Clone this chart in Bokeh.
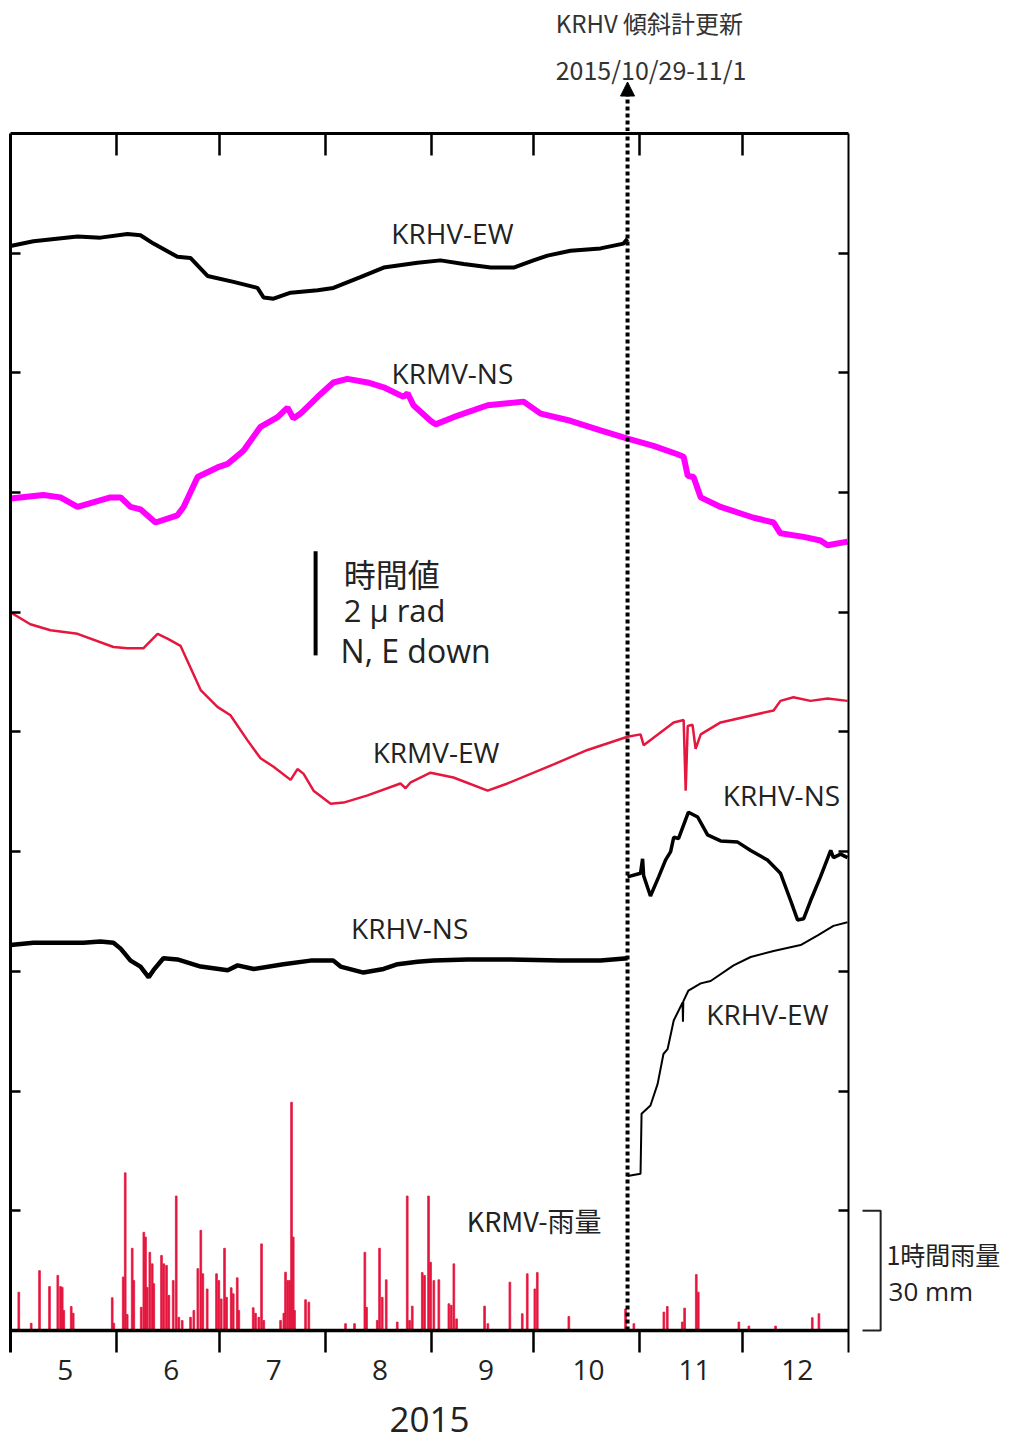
from bokeh.plotting import figure
from bokeh.models import Range1d, LinearAxis, FixedTicker, Arrow, NormalHead, Span
from bokeh.layouts import column, row
from bokeh.core.properties import value
from bokeh.embed import file_html
from bokeh.resources import INLINE

# x: days since 2015-05-01 ; y: offset in plot units (one tick interval = 1)
month_starts = [0, 31, 61, 92, 123, 153, 184, 214, 245]
month_labels = ["5", "6", "7", "8", "9", "10", "11", "12"]
update_day = 180.4   # KRHV tiltmeter replacement 2015/10/29-11/1

krhv_ew_a_day = [0, 6.7, 19.6, 26.3, 34.2, 38.0, 41.8, 48.8, 52.6, 57.6, 65.2, 72.2, 74.0, 76.9,
                 81.9, 89.8, 94.4, 102.3, 109.1, 119.0, 125.7, 132.5, 140.4, 147.1, 152.9, 157.0,
                 163.7, 172.5, 179.2, 180.4]
krhv_ew_a_val = [9.06, 9.10, 9.14, 9.13, 9.16, 9.15, 9.08, 8.97, 8.96, 8.81, 8.76, 8.71, 8.63, 8.62,
                 8.67, 8.69, 8.71, 8.80, 8.88, 8.92, 8.94, 8.91, 8.88, 8.88, 8.94, 8.98,
                 9.02, 9.04, 9.08, 9.12]

krmv_ns_day = [0, 9.6, 14.6, 19.6, 29.2, 32.2, 35.1, 38.0, 42.4, 48.8, 50.6, 54.7, 60.5, 63.5, 68.1,
               73.1, 78.1, 81.0, 82.7, 84.8, 89.8, 94.4, 98.5, 104.4, 109.1, 114.9, 116.1, 117.8,
               122.8, 124.3, 129.5, 139.5, 150.0, 155.0, 163.7, 172.5, 180.4, 188.0, 195.0, 196.8,
               198.0, 199.7, 201.8, 207.6, 217.3, 223.1, 225.1, 231.9, 236.8, 238.9, 244.7]
krmv_ns_val = [6.95, 6.98, 6.96, 6.88, 6.96, 6.96, 6.88, 6.86, 6.75, 6.81, 6.88, 7.13, 7.21, 7.24, 7.35,
               7.55, 7.63, 7.71, 7.62, 7.66, 7.80, 7.92, 7.95, 7.92, 7.88, 7.80, 7.83, 7.73,
               7.60, 7.57, 7.63, 7.73, 7.76, 7.66, 7.60, 7.52, 7.45, 7.39, 7.32, 7.30,
               7.14, 7.13, 6.96, 6.88, 6.79, 6.75, 6.66, 6.63, 6.60, 6.56, 6.59]

krmv_ew_day = [0, 5.8, 11.7, 19.6, 30.1, 34.2, 38.9, 43.0, 45.9, 49.7, 55.6, 60.5, 64.3, 69.3, 73.1,
               76.9, 81.9, 83.9, 85.7, 88.6, 93.6, 97.4, 104.4, 114.0, 115.5, 117.0, 122.8, 129.5,
               139.5, 145.3, 158.8, 168.7, 180.4, 184.2, 185.1, 193.9, 196.8, 197.4, 198.0, 199.4,
               200.3, 201.8, 207.6, 223.1, 225.1, 228.9, 233.9, 238.9, 244.7]
krmv_ew_val = [6.00, 5.90, 5.85, 5.82, 5.71, 5.70, 5.70, 5.82, 5.78, 5.72, 5.35, 5.21, 5.14, 4.93, 4.78,
               4.71, 4.60, 4.69, 4.65, 4.51, 4.40, 4.41, 4.47, 4.57, 4.53, 4.58, 4.66, 4.62,
               4.51, 4.57, 4.73, 4.85, 4.96, 4.98, 4.89, 5.08, 5.10, 4.51, 5.05, 5.06,
               4.86, 4.98, 5.08, 5.18, 5.26, 5.29, 5.26, 5.28, 5.26]

krhv_ns_a_day = [0, 6.7, 14.6, 21.3, 26.3, 30.1, 32.2, 35.1, 38.0, 40.4, 41.8, 44.7, 48.8, 55.6, 63.5,
                 66.4, 71.1, 79.8, 87.7, 94.4, 96.5, 103.2, 109.1, 113.2, 119.0, 123.7, 133.6, 141.2,
                 146.2, 160.8, 172.5, 180.4]
krhv_ns_a_val = [3.22, 3.24, 3.24, 3.24, 3.25, 3.24, 3.19, 3.09, 3.04, 2.95, 3.01, 3.11, 3.10, 3.04, 3.01,
                 3.05, 3.02, 3.06, 3.09, 3.09, 3.04, 2.99, 3.02, 3.06, 3.08, 3.09, 3.10, 3.10,
                 3.10, 3.09, 3.09, 3.11]

krhv_ns_b_day = [180.4, 184.2, 184.8, 185.1, 187.1, 189.5, 191.5, 193.0, 193.9, 195.3, 198.2, 200.9,
                 203.8, 207.6, 212.6, 216.4, 221.3, 225.1, 228.1, 230.1, 231.9, 233.9, 236.8, 239.8,
                 240.6, 242.7, 244.7]
krhv_ns_b_val = [3.79, 3.82, 3.94, 3.80, 3.63, 3.79, 3.93, 4.00, 4.12, 4.11, 4.33, 4.29,
                 4.14, 4.09, 4.08, 4.01, 3.93, 3.82, 3.59, 3.43, 3.44, 3.59, 3.79, 4.01,
                 3.95, 3.98, 3.95]

krhv_ew_b_day = [180.4, 184.2, 184.5, 187.1, 189.2, 190.9, 192.1, 193.9, 196.5, 196.6, 196.7, 198.2,
                 201.8, 204.7, 211.4, 216.4, 223.1, 231.0, 236.0, 240.6, 244.7]
krhv_ew_b_val = [1.29, 1.31, 1.81, 1.88, 2.06, 2.31, 2.35, 2.59, 2.74, 2.58, 2.75, 2.84,
                 2.90, 2.92, 3.05, 3.12, 3.17, 3.22, 3.30, 3.38, 3.41]

# KRMV hourly rainfall (mm)
rain_day = [2.43, 6.05, 8.48, 11.40, 13.83, 14.62, 15.12, 15.58, 17.75, 18.33, 29.74, 30.20, 32.95,
            33.54, 34.12, 35.58, 36.05, 38.22, 38.98, 39.47, 39.97, 40.73, 41.43, 41.90, 44.15, 44.82,
            45.61, 46.29, 47.57, 48.45, 49.21, 50.20, 52.63, 53.60, 54.77, 55.64, 56.23, 57.51, 60.23,
            60.91, 61.61, 62.57, 63.16, 64.53, 65.12, 66.29, 66.75, 70.96, 71.64, 72.60, 73.39, 74.06,
            78.95, 79.91, 80.41, 81.08, 81.67, 82.16, 82.66, 83.04, 86.26, 87.22, 97.95, 100.58, 103.60,
            104.09, 107.22, 107.89, 108.68, 109.85, 113.07, 115.99, 116.67, 117.46, 120.38, 121.05,
            122.22, 122.81, 123.77, 125.23, 128.16, 128.86, 129.62, 130.41, 138.60, 139.56, 146.00,
            149.62, 151.08, 153.30, 154.01, 163.24, 179.82, 182.25, 191.02, 192.02, 196.40, 197.08,
            200.50, 201.08, 212.95, 215.88, 223.68, 234.41, 236.35]
rain_mm = [9.6, 1.8, 15.0, 11.0, 13.8, 11.0, 10.8, 5.0, 6.0, 4.3, 8.2, 1.8, 13.4, 39.5, 4.0, 20.6, 12.5,
           5.8, 24.6, 23.4, 10.8, 19.6, 16.7, 11.7, 18.8, 16.7, 16.3, 8.8, 12.5, 33.7, 3.3, 2.5, 3.3,
           5.0, 15.5, 25.1, 14.2, 10.4, 14.2, 12.5, 7.9, 20.6, 8.3, 10.7, 9.2, 13.2, 5.0, 5.7, 4.3,
           3.3, 21.7, 2.5, 2.5, 4.3, 14.6, 12.5, 12.5, 57.2, 23.4, 5.0, 7.7, 7.1, 1.7, 1.7, 19.6,
           5.8, 2.5, 20.6, 8.3, 12.7, 2.1, 33.7, 2.5, 6.1, 14.5, 13.8, 33.7, 17.1, 12.5, 12.7, 6.7,
           6.3, 16.7, 2.9, 6.1, 1.7, 12.1, 4.2, 14.2, 10.4, 14.5, 3.5, 5.4, 1.7, 4.6, 6.0, 2.1, 5.6,
           14.0, 9.6, 2.1, 1.1, 1.1, 3.2, 4.2]
rain_scale_mm = 30.0   # 30 mm per tick interval

RED = "#e5173f"
MAGENTA = "#ff00ff"
LATIN = "Open Sans"
CJK = "Noto Sans CJK JP"
TXT = "#222222"

X0, X1 = 0, 245
PX_PER_DAY = 838 / 245.0
PX_PER_UNIT = 119.7

xr = Range1d(X0, X1)
yr_main = Range1d(-0.184, 10)

# ---------------- main panel ----------------
p = figure(width=851, height=1312, x_range=xr, y_range=yr_main,
           output_backend="svg", toolbar_location=None,
           min_border_left=10, min_border_right=3, min_border_top=2, min_border_bottom=91,
           background_fill_color="white", border_fill_color="white")
p.xgrid.visible = False
p.ygrid.visible = False
p.outline_line_color = None

mid_ticks = [m + 16 for m in month_starts[:-1]]
bound_ticks = month_starts[1:-1]

xb = p.xaxis[0]
xb.ticker = FixedTicker(ticks=mid_ticks, minor_ticks=bound_ticks)
xb.major_label_overrides = {t: l for t, l in zip(mid_ticks, month_labels)}
xb.major_tick_in = 0
xb.major_tick_out = 0
xb.minor_tick_in = 22
xb.minor_tick_out = 0
xb.minor_tick_line_width = 2.5
xb.minor_tick_line_color = "black"
xb.axis_line_color = None
xb.major_label_text_font = LATIN
xb.major_label_text_font_size = "28px"
xb.major_label_text_color = TXT
xb.major_label_standoff = 7
xb.axis_label = "2015"
xb.axis_label_text_font = LATIN
xb.axis_label_text_font_size = "35px"
xb.axis_label_text_font_style = "normal"
xb.axis_label_text_color = TXT
xb.axis_label_standoff = 24

xt = LinearAxis(ticker=FixedTicker(ticks=[], minor_ticks=bound_ticks))
xt.minor_tick_in = 22
xt.minor_tick_out = 0
xt.minor_tick_line_width = 2.5
xt.major_tick_in = 0
xt.major_tick_out = 0
xt.axis_line_width = 3
xt.major_label_standoff = 0
p.add_layout(xt, "above")

yl = p.yaxis[0]
yl.ticker = FixedTicker(ticks=[], minor_ticks=list(range(1, 10)))
yrax = LinearAxis(ticker=FixedTicker(ticks=[], minor_ticks=list(range(1, 10))))
p.add_layout(yrax, "right")
for ax, lw in ((yl, 3), (yrax, 2)):
    ax.major_tick_in = 0
    ax.major_tick_out = 0
    ax.minor_tick_in = 10
    ax.minor_tick_out = 0
    ax.minor_tick_line_width = 2.5
    ax.minor_tick_line_color = "black"
    ax.axis_line_width = lw
    ax.major_label_standoff = 0

# rain bars and baseline
p.vbar(x=rain_day, top=[r / rain_scale_mm for r in rain_mm], bottom=0, width=0.5,
       fill_color=RED, line_color=RED, line_width=0.8)
p.add_layout(Span(location=0, dimension="width", line_color="black", line_width=3.5))

# tilt traces
p.line(krhv_ew_a_day, krhv_ew_a_val, line_color="black", line_width=4)
p.line(krmv_ns_day, krmv_ns_val, line_color=MAGENTA, line_width=6)
p.line(krmv_ew_day, krmv_ew_val, line_color=RED, line_width=2.5)
p.line(krhv_ns_a_day, krhv_ns_a_val, line_color="black", line_width=4.5)
p.line(krhv_ns_b_day, krhv_ns_b_val, line_color="black", line_width=3.5)
p.line(krhv_ew_b_day, krhv_ew_b_val, line_color="black", line_width=2)

# scale bar (2 micro-radian)
p.segment(x0=[89.2], y0=[5.64], x1=[89.2], y1=[6.51], line_color="black", line_width=4)

# update marker (dotted line)
p.segment(x0=[update_day], y0=[0], x1=[update_day], y1=[10.2], line_color="black",
          line_width=4, line_dash="4 3")


def lab(fig, x, y, text, font=LATIN, size="28px", align="center", color=TXT):
    fig.text(x=[x], y=[y], text=[text], text_font=value(font), text_font_size=value(size),
             text_align=align, text_baseline="middle", text_color=color)


lab(p, 129.2, 9.17, "KRHV-EW")
lab(p, 129.2, 8.00, "KRMV-NS")
lab(p, 124.4, 4.83, "KRMV-EW")
lab(p, 225.4, 4.47, "KRHV-NS")
lab(p, 116.7, 3.36, "KRHV-NS")
lab(p, 221.3, 2.64, "KRHV-EW")
lab(p, 153.1, 0.92, "KRMV-雨量", font=CJK, size="27px")
lab(p, 97.4, 6.33, "時間値", font=CJK, size="32px", align="left")
lab(p, 97.4, 6.02, "2 μ rad", size="31px", align="left")
lab(p, 96.5, 5.68, "N, E down", size="32px", align="left")

# ---------------- top strip (annotation of tiltmeter replacement) ----------------
top_h = 131
top = figure(width=1009, height=top_h, x_range=xr, y_range=Range1d(10 + 2 / PX_PER_UNIT, 10 + 133 / PX_PER_UNIT),
             output_backend="svg", toolbar_location=None,
             x_axis_location=None, y_axis_location=None,
             min_border_left=10, min_border_right=161, min_border_top=0, min_border_bottom=0,
             background_fill_color="white", border_fill_color="white")
top.xgrid.visible = False
top.ygrid.visible = False
top.outline_line_color = None
top.add_layout(Arrow(x_start=update_day, y_start=9.9, x_end=update_day, y_end=10.43,
                     line_color="black", line_width=4, line_dash="4 3",
                     end=NormalHead(size=14, fill_color="black", line_color="black", line_width=1)))
lab(top, 159.4, 10.93, "KRHV 傾斜計更新", font=CJK, size="24px", align="left", color="#333333")
lab(top, 159.4, 10.54, "2015/10/29-11/1", font=CJK, size="25px", align="left", color="#333333")

# ---------------- right strip (rain scale) ----------------
rx0 = X1 + 3 / PX_PER_DAY
side = figure(width=158, height=1312, x_range=Range1d(rx0, rx0 + 158 / PX_PER_DAY), y_range=yr_main,
              output_backend="svg", toolbar_location=None,
              x_axis_location=None, y_axis_location=None,
              min_border_left=0, min_border_right=0, min_border_top=2, min_border_bottom=91,
              background_fill_color="white", border_fill_color="white")
side.xgrid.visible = False
side.ygrid.visible = False
side.outline_line_color = None
bx0, bx1 = 249.1, 254.4
side.line(x=[bx0, bx1, bx1, bx0], y=[30 / rain_scale_mm, 30 / rain_scale_mm, 0, 0],
          line_color=TXT, line_width=2)
lab(side, 256.1, 0.64, "1時間雨量", font=CJK, size="25px", align="left")
lab(side, 256.7, 0.33, "30 mm", size="26px", align="left")

layout = column(top, row(p, side, spacing=0), spacing=0)
open("out.html", "w").write(file_html(layout, INLINE))
